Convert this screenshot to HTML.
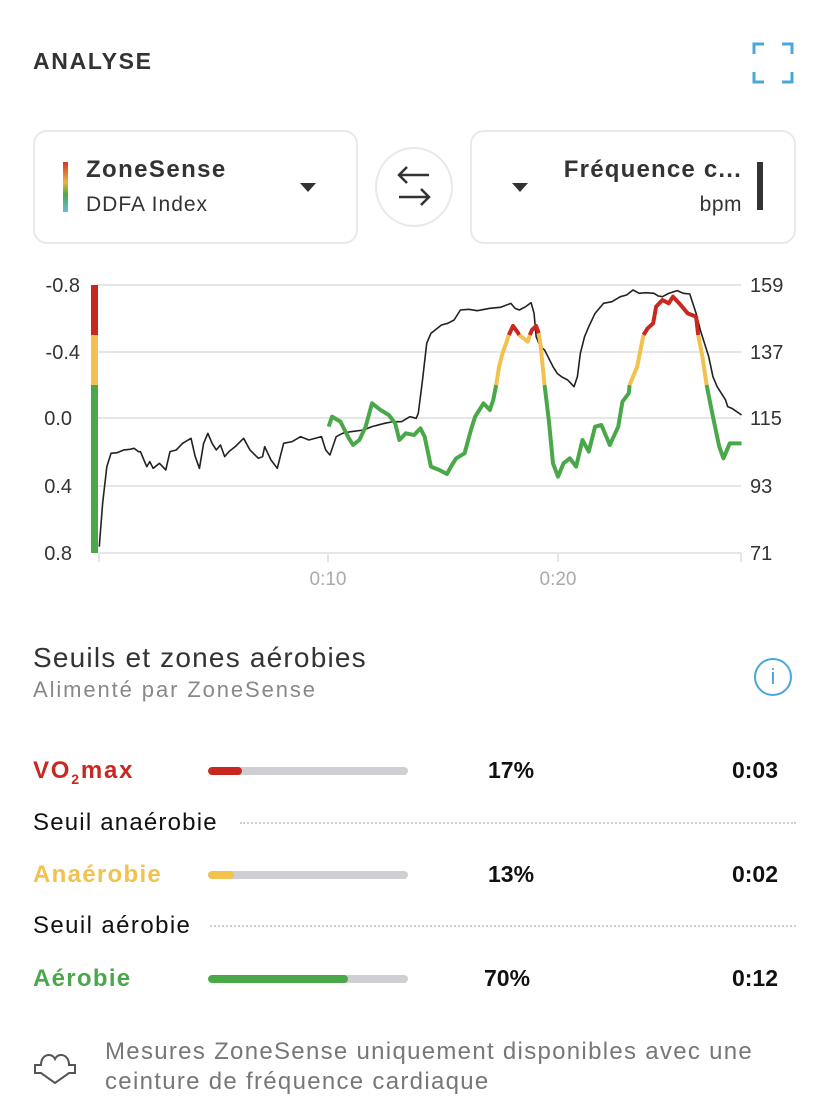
<!DOCTYPE html>
<html><head><meta charset="utf-8"><style>
*{margin:0;padding:0;box-sizing:border-box}
body{width:828px;height:1104px;background:#fff;position:relative;overflow:hidden;font-family:"Liberation Sans",sans-serif;color:#222}
.a{position:absolute;white-space:nowrap}
.card{position:absolute;border:2px solid #e9e9e9;border-radius:14px;top:130px;height:114px}
.tri{position:absolute;width:0;height:0;border-left:8px solid transparent;border-right:8px solid transparent;border-top:9px solid #333}
.bar{position:absolute;left:208px;width:200px;height:8px;border-radius:4px;background:#cfcfd3;overflow:hidden}
.bar i{position:absolute;left:0;top:0;bottom:0;border-radius:4px}
.lbl{font-size:24px;font-weight:bold;letter-spacing:1.3px}
.num{font-size:23px;font-weight:bold;color:#111}
.dot{position:absolute;height:0;border-top:2px dotted #cfcfcf;right:32px}
</style></head><body>
<div class="a" style="left:33px;top:48px;font-size:23px;font-weight:bold;color:#333;letter-spacing:1.7px">ANALYSE</div>
<svg class="a" style="left:752px;top:42px" width="42" height="42" fill="none" stroke="#4aa8d8" stroke-width="3">
<path d="M2 12V2H12M30 2H40V12M40 30V40H30M12 40H2V30"/></svg>

<div class="card" style="left:33px;width:325px"></div>
<div class="a" style="left:63px;top:162px;width:5px;height:50px;background:linear-gradient(#d0362a,#f2b33d 40%,#4aa84a 65%,#6bbbe0)"></div>
<div class="a" style="left:86px;top:156px;font-size:24px;font-weight:bold;color:#333;letter-spacing:1.4px">ZoneSense</div>
<div class="a" style="left:86px;top:193px;font-size:21px;color:#333;letter-spacing:1px">DDFA Index</div>
<div class="tri" style="left:300px;top:183px"></div>

<div class="a" style="left:375px;top:147px;width:78px;height:80px;border:2px solid #e9e9e9;border-radius:50%"></div>
<svg class="a" style="left:393px;top:165px" width="42" height="42" fill="none" stroke="#333" stroke-width="2.5">
<path d="M36 10H6M14 2L6 10L14 18M6 32H36M28 24L36 32L28 40"/></svg>

<div class="card" style="left:470px;width:326px"></div>
<div class="tri" style="left:512px;top:183px"></div>
<div class="a" style="right:86px;top:156px;font-size:24px;font-weight:bold;color:#333;letter-spacing:1.2px">Fréquence c...</div>
<div class="a" style="right:86px;top:193px;font-size:21px;color:#333;letter-spacing:0.5px">bpm</div>
<div class="a" style="left:757px;top:162px;width:6px;height:48px;background:#333"></div>

<!-- chart -->
<svg class="a" style="left:0;top:0" width="828" height="600">
<g stroke="#e6e6e6" stroke-width="2">
<line x1="97" x2="741" y1="285" y2="285"/><line x1="97" x2="741" y1="352" y2="352"/>
<line x1="97" x2="741" y1="418" y2="418"/><line x1="97" x2="741" y1="486" y2="486"/>
<line x1="97" x2="741" y1="553" y2="553"/>
<line x1="99" x2="99" y1="553" y2="562"/><line x1="328" x2="328" y1="553" y2="562"/><line x1="558" x2="558" y1="553" y2="562"/><line x1="741" x2="741" y1="553" y2="562"/>
</g>
<rect x="91" y="285" width="7" height="50" fill="#c8281f"/>
<rect x="91" y="335" width="7" height="50" fill="#f2c14e"/>
<rect x="91" y="385" width="7" height="168" fill="#4aa84a"/>
<g font-size="20" fill="#333" text-anchor="end">
<text x="80" y="292">-0.8</text><text x="80" y="359">-0.4</text><text x="72" y="425">0.0</text><text x="72" y="493">0.4</text><text x="72" y="560">0.8</text>
</g>
<g font-size="20" fill="#333">
<text x="750" y="292">159</text><text x="750" y="359">137</text><text x="750" y="425">115</text><text x="750" y="493">93</text><text x="750" y="560">71</text>
</g>
<g font-size="19" fill="#aaa" text-anchor="middle"><text x="328" y="585">0:10</text><text x="558" y="585">0:20</text></g>
<g transform="translate(90,270) scale(0.4209,0.3333)" fill="none" stroke-linejoin="round">
<polyline vector-effect="non-scaling-stroke" stroke="#222" stroke-width="1.6" points="22,830 30,700 40,590 50,550 65,548 80,540 95,538 105,535 115,545 120,545 128,570 135,590 142,575 150,595 165,580 180,600 190,545 205,540 220,520 240,505 250,560 260,595 270,520 280,490 290,520 300,540 310,525 320,560 330,545 345,530 365,505 380,540 400,565 410,560 415,530 430,570 445,595 460,520 480,515 500,500 520,510 550,500 560,540 570,555 585,500 600,490 620,485 650,480 670,470 700,460 720,455 740,455 760,440 775,445 780,430 790,330 800,220 810,190 820,180 835,165 850,160 865,150 880,120 900,118 920,122 950,115 975,112 1000,100 1010,115 1020,120 1035,110 1048,98 1055,130 1060,200 1070,230 1080,240 1090,265 1100,290 1110,310 1120,320 1135,330 1150,350 1158,320 1165,250 1175,200 1185,170 1200,130 1220,100 1240,95 1260,80 1275,75 1290,60 1305,70 1320,68 1340,70 1350,78 1360,80 1375,70 1395,62 1410,70 1425,72 1440,130 1450,180 1460,220 1470,260 1480,320 1490,350 1500,370 1510,390 1515,410 1525,415 1548,435"/>
<polyline vector-effect="non-scaling-stroke" stroke="#4aa84a" stroke-width="4" points="567,470 575,440 595,455 605,480 615,505 625,525 640,510 655,470 670,400 690,420 710,435 725,460 735,510 750,490 770,495 785,475 795,500 810,590 830,600 848,612 860,585 870,565 890,550 905,480 915,440 935,400 950,420 958,390 965,345"/>
<polyline vector-effect="non-scaling-stroke" stroke="#f2c14e" stroke-width="4" points="965,345 972,290 980,250 990,215 995,195"/>
<polyline vector-effect="non-scaling-stroke" stroke="#c8281f" stroke-width="4" points="995,195 1005,168 1015,185 1020,195"/>
<polyline vector-effect="non-scaling-stroke" stroke="#f2c14e" stroke-width="4" points="1020,195 1030,205 1040,215 1045,195"/>
<polyline vector-effect="non-scaling-stroke" stroke="#c8281f" stroke-width="4" points="1045,195 1050,180 1060,168 1066,190"/>
<polyline vector-effect="non-scaling-stroke" stroke="#f2c14e" stroke-width="4" points="1066,190 1070,220 1080,345"/>
<polyline vector-effect="non-scaling-stroke" stroke="#4aa84a" stroke-width="4" points="1080,345 1090,450 1100,580 1112,620 1125,580 1140,565 1155,590 1170,510 1185,545 1200,470 1215,465 1235,525 1255,470 1265,395 1280,370 1282,345"/>
<polyline vector-effect="non-scaling-stroke" stroke="#f2c14e" stroke-width="4" points="1282,345 1300,290 1315,195"/>
<polyline vector-effect="non-scaling-stroke" stroke="#c8281f" stroke-width="4" points="1315,195 1325,175 1338,160 1345,110 1360,90 1375,100 1385,80 1400,100 1420,130 1440,140 1445,195"/>
<polyline vector-effect="non-scaling-stroke" stroke="#f2c14e" stroke-width="4" points="1445,195 1455,260 1465,345"/>
<polyline vector-effect="non-scaling-stroke" stroke="#4aa84a" stroke-width="4" points="1465,345 1480,440 1495,530 1505,565 1520,520 1548,520"/>
</g>
</svg>

<div class="a" style="left:33px;top:642px;font-size:28px;color:#333;letter-spacing:1.2px">Seuils et zones aérobies</div>
<div class="a" style="left:33px;top:677px;font-size:22px;color:#888;letter-spacing:1.9px">Alimenté par ZoneSense</div>
<div class="a" style="left:754px;top:658px;width:38px;height:38px;border:2px solid #4aa8d8;border-radius:50%;color:#4aa8d8;font-size:22px;text-align:center;line-height:34px">i</div>

<div class="a lbl" style="left:33px;top:757px;color:#c8281f;letter-spacing:1.8px">VO<sub style="font-size:14px">2</sub>max</div>
<div class="bar" style="top:767px"><i style="width:34px;background:#c8281f"></i></div>
<div class="a num" style="left:488px;top:757px">17%</div>
<div class="a num" style="right:50px;top:757px">0:03</div>

<div class="a" style="left:33px;top:809px;font-size:24px;color:#111;letter-spacing:1.2px">Seuil anaérobie</div>
<div class="dot" style="left:240px;top:822px"></div>

<div class="a lbl" style="left:33px;top:861px;color:#f2c14e">Anaérobie</div>
<div class="bar" style="top:871px"><i style="width:26px;background:#f2c14e"></i></div>
<div class="a num" style="left:488px;top:861px">13%</div>
<div class="a num" style="right:50px;top:861px">0:02</div>

<div class="a" style="left:33px;top:912px;font-size:24px;color:#111;letter-spacing:1.4px">Seuil aérobie</div>
<div class="dot" style="left:210px;top:925px"></div>

<div class="a lbl" style="left:33px;top:965px;color:#4aa84a">Aérobie</div>
<div class="bar" style="top:975px"><i style="width:140px;background:#4aa84a"></i></div>
<div class="a num" style="left:484px;top:965px">70%</div>
<div class="a num" style="right:50px;top:965px">0:12</div>

<svg class="a" style="left:34px;top:1052px" width="42" height="32" fill="none" stroke="#555" stroke-width="2">
<path d="M1 13H7C7 5 12 3 15 3C18 3 20 5 21 7C22 5 24 3 27 3C30 3 35 5 35 13H41V21H35L21 31L7 21H1Z"/></svg>
<div class="a" style="left:105px;top:1037px;font-size:24px;color:#777;line-height:30px;letter-spacing:1.3px">Mesures ZoneSense uniquement disponibles avec une<br>ceinture de fréquence cardiaque</div>
</body></html>
